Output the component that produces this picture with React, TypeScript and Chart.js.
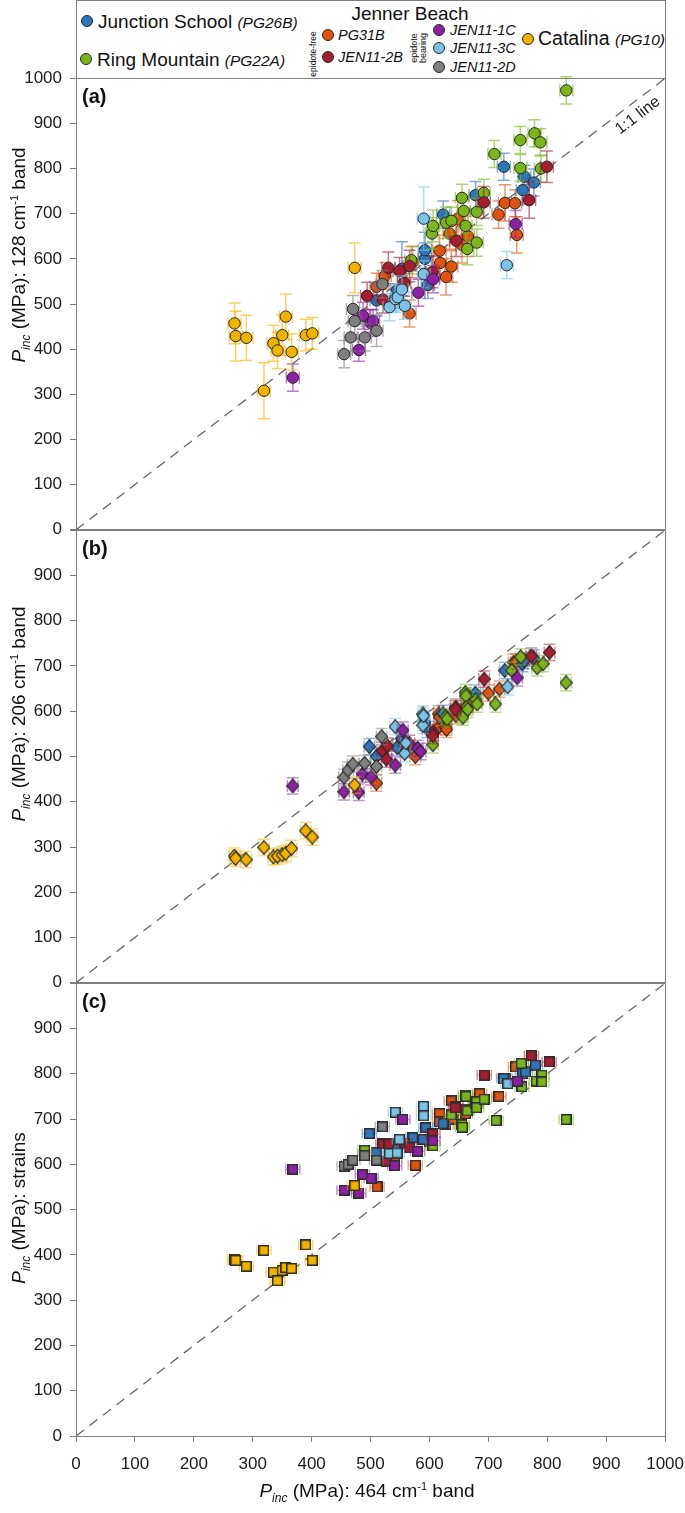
import React, { useEffect, useRef } from 'react';
import { Chart, registerables } from 'chart.js';
Chart.register(...registerables);

type P2 = [number, number];
type P3 = [number, number, number];

// ---------------- data: [x (464 band), y, y-error] ----------------
const junctionA: P3[] = [[510,508,35],[545,530,40],[553,578,60],[592,600,35],[592,619,40],[597,542,30],[623,698,30],[678,741,30],[726,804,30],[758,752,30],[761,782,25],[777,769,30]];
const junctionB: P2[] = [[498,522],[510,500],[545,520],[553,540],[592,575],[597,560],[623,595],[678,640],[728,690],[758,705],[761,712],[777,718]];
const junctionC: P2[] = [[498,668],[510,626],[545,640],[572,659],[589,655],[594,681],[623,690],[678,735],[726,790],[758,800],[763,804],[780,819]];

const ringA: P3[] = [[569,597,30],[604,656,35],[606,673,35],[628,680,35],[637,684,30],[655,735,30],[658,706,30],[661,673,35],[664,622,35],[680,636,30],[680,704,30],[692,746,30],[710,832,30],[754,801,30],[754,863,30],[778,878,30],[788,858,30],[789,800,30],[832,973,30]];
const ringB: P2[] = [[606,526],[628,588],[630,583],[655,593],[657,587],[661,641],[662,634],[663,609],[665,604],[679,625],[681,616],[712,616],[740,690],[755,720],[783,696],[793,705],[832,663]];
const ringC: P2[] = [[490,631],[606,641],[637,709],[655,687],[656,682],[661,753],[662,750],[663,722],[664,718],[679,734],[680,738],[680,725],[693,744],[713,697],[756,823],[757,771],[781,784],[791,797],[791,782],[832,699]];

const pg31bA: P3[] = [[510,538,30],[524,562,30],[566,479,30],[571,593,35],[617,618,35],[618,591,35],[628,560,40],[634,656,35],[637,583,35],[648,689,40],[655,631,40],[665,650,45],[717,698,30],[728,724,40],[745,723,30],[748,653,40]];
const pg31bB: P2[] = [[510,441],[560,515],[576,500],[616,594],[617,567],[617,587],[628,565],[629,560],[645,590],[665,615],[700,640],[719,649],[743,708],[747,709]];
const pg31bC: P2[] = [[511,550],[541,615],[576,598],[600,650],[617,712],[617,694],[628,688],[637,740],[640,700],[661,712],[685,756],[718,750],[729,789],[746,815]];

const jen2bA: P3[] = [[494,518,30],[521,510,30],[530,580,35],[549,573,30],[557,547,30],[566,584,35],[605,571,35],[645,640,35],[692,725,35],[769,730,40],[799,804,35]];
const jen2bB: P2[] = [[520,513],[529,523],[527,494],[558,525],[566,529],[606,553],[606,546],[645,609],[644,605],[693,671],[773,722],[804,730]];
const jen2bC: P2[] = [[521,645],[531,645],[527,607],[558,647],[566,637],[606,667],[645,728],[644,725],[693,797],[773,840],[803,826]];

const jen1cA: P3[] = [[368,337,30],[480,398,25],[487,474,30],[500,458,30],[504,462,25],[581,525,30],[606,555,30],[746,677,30]];
const jen1cB: P2[] = [[368,435],[455,422],[480,421],[486,461],[501,455],[542,481],[555,558],[580,518],[585,511],[749,674]];
const jen1cC: P2[] = [[368,589],[455,543],[480,536],[486,578],[501,569],[541,597],[555,699],[580,629],[606,652],[749,784]];

const jen3cA: P3[] = [[532,493,30],[542,511,30],[546,515,30],[553,532,30],[558,496,30],[590,566,30],[590,689,70],[731,586,30]];
const jen3cB: P2[] = [[542,566],[558,507],[560,530],[589,594],[589,569],[590,590],[733,654]];
const jen3cC: P2[] = [[532,624],[542,715],[545,625],[549,655],[590,728],[590,707],[733,778]];

const jen2dA: P3[] = [[455,389,30],[466,426,30],[470,489,30],[473,462,30],[490,426,30],[510,441,35],[520,544,30]];
const jen2dB: P2[] = [[455,454],[462,470],[470,483],[490,485],[510,478],[519,544]];
const jen2dC: P2[] = [[455,596],[462,600],[470,609],[490,619],[510,609],[520,683]];

const catalinaA: P3[] = [[269,457,45],[271,429,55],[289,425,50],[319,308,62],[335,413,40],[342,397,40],[350,431,45],[356,472,50],[366,394,40],[390,431,35],[401,435,35],[473,580,55]];
const catalinaB: P2[] = [[269,280],[271,275],[289,272],[319,299],[335,278],[342,280],[350,283],[356,286],[366,297],[390,336],[401,322],[473,437]];
const catalinaC: P2[] = [[269,390],[271,388],[289,375],[319,410],[335,362],[342,343],[350,366],[356,372],[366,370],[390,422],[401,388],[473,553]];

const A_XERR = 11;
const B_YERR = 18;
const B_XERR = 9;
const C_YERR = 7;
const C_XERR = 12;

const AXIS_TICKS = [0, 1000];
const ONE_TO_ONE = [0, 1000];
const LINE_LABEL_AT = 940;

const FONT = '"Liberation Sans", Arial, Helvetica, sans-serif';
const AXIS_GRAY = '#7f7f7f';

const COLORS = {
  junction: '#2e74b8',
  ring: '#7ab51d',
  pg31b: '#de5312',
  jen2b: '#a51d30',
  jen1c: '#8c21a3',
  jen3c: '#7cc3e6',
  jen2d: '#7f7f7f',
  catalina: '#f1b200',
};

// drawn top-first (first dataset ends up on top)
const SERIES = [
  { name: 'Catalina (PG10)', color: COLORS.catalina, a: catalinaA, b: catalinaB, c: catalinaC },
  { name: 'JEN11-2D', color: COLORS.jen2d, a: jen2dA, b: jen2dB, c: jen2dC },
  { name: 'JEN11-1C', color: COLORS.jen1c, a: jen1cA, b: jen1cB, c: jen1cC },
  { name: 'JEN11-3C', color: COLORS.jen3c, a: jen3cA, b: jen3cB, c: jen3cC },
  { name: 'JEN11-2B', color: COLORS.jen2b, a: jen2bA, b: jen2bB, c: jen2bC },
  { name: 'Ring Mountain (PG22A)', color: COLORS.ring, a: ringA, b: ringB, c: ringC },
  { name: 'Junction School (PG26B)', color: COLORS.junction, a: junctionA, b: junctionB, c: junctionC },
  { name: 'PG31B', color: COLORS.pg31b, a: pg31bA, b: pg31bB, c: pg31bC },
];

function hexA(hex: string, a: number) {
  const n = parseInt(hex.slice(1), 16);
  return `rgba(${(n >> 16) & 255},${(n >> 8) & 255},${n & 255},${a})`;
}

function diamond(color: string) {
  const c = document.createElement('canvas');
  c.width = 13; c.height = 15;
  const ctx = c.getContext('2d')!;
  ctx.beginPath();
  ctx.moveTo(6.5, 0.6); ctx.lineTo(12.4, 7.5); ctx.lineTo(6.5, 14.4); ctx.lineTo(0.6, 7.5); ctx.closePath();
  ctx.fillStyle = color; ctx.fill();
  ctx.strokeStyle = '#262626'; ctx.lineWidth = 1.1; ctx.stroke();
  return c;
}

function square(color: string) {
  const c = document.createElement('canvas');
  c.width = 11; c.height = 11;
  const ctx = c.getContext('2d')!;
  ctx.fillStyle = color; ctx.fillRect(0.75, 0.75, 9.5, 9.5);
  ctx.strokeStyle = '#2e2e2e'; ctx.lineWidth = 1.5; ctx.strokeRect(0.75, 0.75, 9.5, 9.5);
  return c;
}

const errorBars = {
  id: 'errorBars',
  beforeDatasetDraw(chart: any, args: any) {
    const ds: any = chart.data.datasets[args.index];
    if (!ds.errColor) return;
    const { ctx } = chart;
    const xs = chart.scales.x, ys = chart.scales.y;
    const cap = ds.errCap;
    ctx.save();
    ctx.strokeStyle = ds.errColor;
    ctx.lineWidth = 1.5;
    ds.data.forEach((p: any) => {
      const cx = xs.getPixelForValue(p.x), cy = ys.getPixelForValue(p.y);
      ctx.beginPath();
      if (p.ey) {
        const t = ys.getPixelForValue(p.y + p.ey), b = ys.getPixelForValue(p.y - p.ey);
        ctx.moveTo(cx, t); ctx.lineTo(cx, b);
        ctx.moveTo(cx - cap, t); ctx.lineTo(cx + cap, t);
        ctx.moveTo(cx - cap, b); ctx.lineTo(cx + cap, b);
      }
      if (p.ex) {
        const l = xs.getPixelForValue(p.x - p.ex), r = xs.getPixelForValue(p.x + p.ex);
        ctx.moveTo(l, cy); ctx.lineTo(r, cy);
        ctx.moveTo(l, cy - cap); ctx.lineTo(l, cy + cap);
        ctx.moveTo(r, cy - cap); ctx.lineTo(r, cy + cap);
      }
      ctx.stroke();
    });
    ctx.restore();
  },
};

const decor = {
  id: 'decor',
  afterDatasetsDraw(chart: any, _args: any, opts: any) {
    const { ctx, chartArea: ca } = chart;
    const xs = chart.scales.x, ys = chart.scales.y;
    ctx.save();
    ctx.strokeStyle = AXIS_GRAY; ctx.lineWidth = 1;
    ctx.beginPath();
    ctx.moveTo(ca.left, Math.round(ca.top) + 0.5);
    ctx.lineTo(Math.round(ca.right) + 0.5, Math.round(ca.top) + 0.5);
    ctx.lineTo(Math.round(ca.right) + 0.5, ca.bottom);
    ctx.stroke();
    ctx.fillStyle = '#111';
    ctx.font = `bold 20px ${FONT}`;
    ctx.textBaseline = 'top';
    ctx.textAlign = 'left';
    ctx.fillText(opts.label, ca.left + 6, ca.top + 9);
    if (opts.lineLabel) {
      const px = xs.getPixelForValue(LINE_LABEL_AT), py = ys.getPixelForValue(LINE_LABEL_AT);
      const ang = Math.atan2(ys.getPixelForValue(1000) - ys.getPixelForValue(0), xs.getPixelForValue(1000) - xs.getPixelForValue(0));
      ctx.translate(px, py);
      ctx.rotate(ang);
      ctx.font = `16px ${FONT}`;
      ctx.textAlign = 'center';
      ctx.textBaseline = 'top';
      ctx.fillStyle = '#1a1a1a';
      ctx.fillText('1:1 line', 0, 5);
    }
    ctx.restore();
  },
};

function buildConfig(panel: 'a' | 'b' | 'c'): any {
  const datasets: any[] = SERIES.map((s) => {
    let data: any[];
    if (panel === 'a') data = s.a.map(([x, y, e]) => ({ x, y, ey: e, ex: A_XERR }));
    else if (panel === 'b') data = s.b.map(([x, y]) => ({ x, y, ey: B_YERR, ex: B_XERR }));
    else data = s.c.map(([x, y]) => ({ x, y, ey: C_YERR, ex: C_XERR }));
    return {
      label: s.name,
      data,
      errColor: hexA(s.color, panel === 'a' ? 0.6 : 0.5),
      errCap: panel === 'c' ? 5 : 6,
      backgroundColor: s.color,
      borderColor: '#262626',
      borderWidth: 1,
      pointStyle: panel === 'a' ? 'circle' : panel === 'b' ? diamond(s.color) : square(s.color),
      pointRadius: panel === 'a' ? 5.7 : 6,
    };
  });
  datasets.push({
    label: '1:1 line',
    data: ONE_TO_ONE.map((v) => ({ x: v, y: v })),
    showLine: true,
    borderColor: '#666666',
    borderWidth: 1.3,
    borderDash: [10, 7],
    pointRadius: 0,
    errColor: null,
  });
  const tickFont = { family: FONT, size: 17 };
  return {
    type: 'scatter',
    data: { datasets },
    options: {
      animation: false,
      responsive: false,
      maintainAspectRatio: false,
      devicePixelRatio: 1,
      layout: { padding: { left: 0, right: 4, top: 4, bottom: panel === 'c' ? 0 : 4 } },
      scales: {
        x: {
          type: 'linear',
          min: AXIS_TICKS[0],
          max: AXIS_TICKS[1],
          afterFit: (s: any) => { s.height = panel === 'c' ? 46 : 0; },
          ticks: {
            display: panel === 'c', stepSize: 100, font: tickFont, color: '#1a1a1a', padding: 12,
            maxRotation: 0, autoSkip: false, callback: (v: any) => String(v),
          },
          grid: { drawOnChartArea: false, drawTicks: panel === 'c', tickLength: 6, color: AXIS_GRAY },
          border: { display: true, color: AXIS_GRAY, width: 1 },
        },
        y: {
          type: 'linear',
          min: AXIS_TICKS[0],
          max: AXIS_TICKS[1],
          afterFit: (s: any) => { s.width = 76; },
          ticks: {
            stepSize: 100,
            font: tickFont,
            color: '#1a1a1a',
            padding: 8,
            callback: (v: any) => (panel !== 'a' && v === 1000 ? '' : String(v)),
          },
          grid: { drawOnChartArea: false, tickLength: 6, color: AXIS_GRAY },
          border: { display: true, color: AXIS_GRAY, width: 1 },
        },
      },
      plugins: {
        legend: { display: false },
        tooltip: { enabled: false },
        decor: { label: `(${panel})`, lineLabel: panel === 'a' },
      },
    },
    plugins: [errorBars, decor],
  };
}

// desired plot-area box on the page
const AREA_LEFT = 76;
const AREA_RIGHT = 665;

function Panel({ panel, areaTop, areaBottom }: { panel: 'a' | 'b' | 'c'; areaTop: number; areaBottom: number }) {
  const ref = useRef<HTMLCanvasElement>(null);
  useEffect(() => {
    const canvas = ref.current!;
    const span = areaBottom - areaTop;
    const guessH = span + 80;
    canvas.width = 685; canvas.height = guessH;
    canvas.style.width = '685px';
    canvas.style.height = `${guessH}px`;
    let chart = new Chart(canvas, buildConfig(panel));
    const ca = chart.chartArea;
    const pt = ca.top;
    const pb = chart.height - ca.bottom;
    const pl = ca.left;
    const pr = chart.width - ca.right;
    chart.destroy();
    const h = Math.round(pt + span + pb);
    const w = Math.round(pl + (AREA_RIGHT - AREA_LEFT) + pr);
    canvas.width = w; canvas.height = h;
    canvas.style.width = `${w}px`;
    canvas.style.height = `${h}px`;
    canvas.style.top = `${Math.round(areaTop - pt)}px`;
    canvas.style.left = `${Math.round(AREA_LEFT - pl)}px`;
    chart = new Chart(canvas, buildConfig(panel));
    return () => chart.destroy();
  }, [panel, areaTop, areaBottom]);
  return <canvas ref={ref} style={{ position: 'absolute', left: 0, top: areaTop - 20 }} />;
}

const Dot = ({ cx, cy, color }: { cx: number; cy: number; color: string }) => (
  <div
    style={{
      position: 'absolute', left: cx - 6, top: cy - 6, width: 12, height: 12,
      borderRadius: '50%', background: color, border: '1px solid #2a2a2a', boxSizing: 'border-box',
    }}
  />
);

const Txt = ({ x, cy, size, italic, children }: any) => (
  <div
    style={{
      position: 'absolute', left: x, top: cy, transform: 'translateY(-50%)', fontSize: size,
      fontStyle: italic ? 'italic' : 'normal', whiteSpace: 'nowrap', lineHeight: 1, color: '#111',
    }}
  >
    {children}
  </div>
);

const Small = ({ children }: any) => (
  <span style={{ fontSize: 15.5, fontStyle: 'italic' }}>{children}</span>
);

const Pinc = () => (
  <>
    <i>P</i>
    <span style={{ fontSize: 12, fontStyle: 'italic', position: 'relative', top: 5 }}>inc</span>
  </>
);

const Sup = ({ children }: any) => (
  <span style={{ fontSize: 11, position: 'relative', top: -7 }}>{children}</span>
);

const YTitle = ({ cy, children }: any) => (
  <div
    style={{
      position: 'absolute', left: 18, top: cy, transform: 'translate(-50%, -50%) rotate(-90deg)',
      whiteSpace: 'nowrap', fontSize: 19, lineHeight: 1, color: '#111',
    }}
  >
    {children}
  </div>
);

export default function App() {
  return (
    <div
      style={{
        position: 'absolute', left: 0, top: 0, width: 685, height: 1513, background: '#fff',
        fontFamily: FONT, overflow: 'hidden',
      }}
    >
      {/* legend box */}
      <div
        style={{
          position: 'absolute', left: 76, top: 0, width: 590, height: 79,
          border: `1px solid ${AXIS_GRAY}`, borderBottom: 'none', boxSizing: 'border-box',
        }}
      />
      <Dot cx={87} cy={21} color={COLORS.junction} />
      <Txt x={98} cy={21} size={19}>Junction School <Small>(PG26B)</Small></Txt>
      <Dot cx={86} cy={59} color={COLORS.ring} />
      <Txt x={97} cy={59} size={19}>Ring Mountain <Small>(PG22A)</Small></Txt>

      <div style={{ position: 'absolute', left: 410, top: 13, transform: 'translate(-50%, -50%)', fontSize: 19, lineHeight: 1, whiteSpace: 'nowrap', color: '#111' }}>
        Jenner Beach
      </div>
      <div style={{ position: 'absolute', left: 313, top: 54, transform: 'translate(-50%, -50%) rotate(-90deg)', fontSize: 8.5, lineHeight: 1, whiteSpace: 'nowrap', color: '#111' }}>
        epidote-free
      </div>
      <div style={{ position: 'absolute', left: 419, top: 48, transform: 'translate(-50%, -50%) rotate(-90deg)', fontSize: 9, lineHeight: 0.95, whiteSpace: 'nowrap', textAlign: 'center', color: '#111' }}>
        epidote<br />bearing
      </div>
      <Dot cx={328} cy={35} color={COLORS.pg31b} />
      <Txt x={338} cy={35} size={14.5} italic>PG31B</Txt>
      <Dot cx={328} cy={57} color={COLORS.jen2b} />
      <Txt x={338} cy={57} size={14.5} italic>JEN11-2B</Txt>
      <Dot cx={439} cy={30} color={COLORS.jen1c} />
      <Txt x={450} cy={30} size={14.5} italic>JEN11-1C</Txt>
      <Dot cx={439} cy={48} color={COLORS.jen3c} />
      <Txt x={450} cy={48} size={14.5} italic>JEN11-3C</Txt>
      <Dot cx={439} cy={67} color={COLORS.jen2d} />
      <Txt x={450} cy={67} size={14.5} italic>JEN11-2D</Txt>
      <Dot cx={528} cy={39} color={COLORS.catalina} />
      <Txt x={538} cy={39} size={19.5}>Catalina <Small>(PG10)</Small></Txt>

      <Panel panel="a" areaTop={78} areaBottom={530} />
      <Panel panel="b" areaTop={530} areaBottom={983} />
      <Panel panel="c" areaTop={983} areaBottom={1436} />

      <YTitle cy={255}><Pinc /> (MPa): 128 cm<Sup>-1</Sup> band</YTitle>
      <YTitle cy={714}><Pinc /> (MPa): 206 cm<Sup>-1</Sup> band</YTitle>
      <YTitle cy={1208}><Pinc /> (MPa): strains</YTitle>

      <div style={{ position: 'absolute', left: 367, top: 1490, transform: 'translate(-50%, -50%)', fontSize: 19, lineHeight: 1, whiteSpace: 'nowrap', color: '#111' }}>
        <Pinc /> (MPa): 464 cm<Sup>-1</Sup> band
      </div>
    </div>
  );
}
